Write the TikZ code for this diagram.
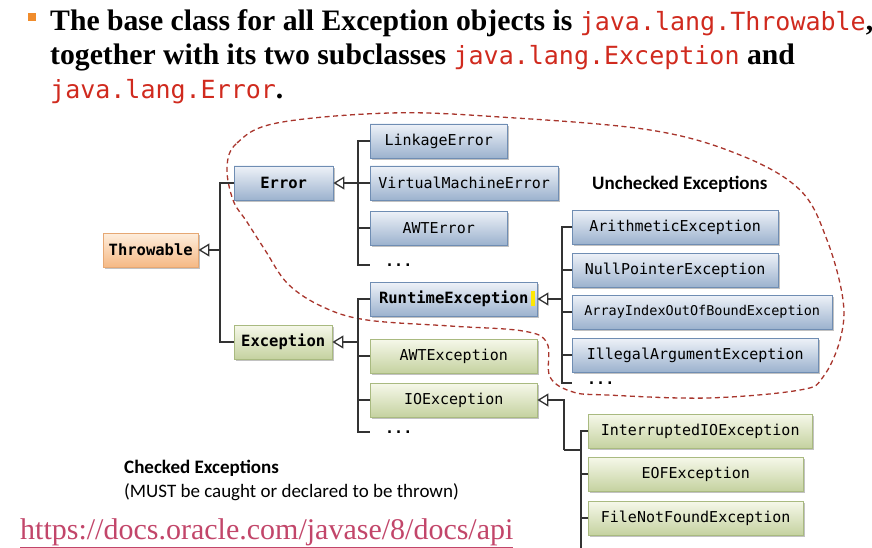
\documentclass[tikz,border=0pt]{standalone}
\usepackage{fontspec}
\setmainfont{Liberation Serif}
\setmonofont{DejaVu Sans Mono}
\newfontfamily\calib{Carlito}
\usetikzlibrary{arrows.meta,shadows}
\definecolor{jred}{HTML}{D02A1E}
\definecolor{bluetop}{HTML}{EEF2F8}
\definecolor{bluebot}{HTML}{9CB2CE}
\definecolor{blueline}{HTML}{6F8DB3}
\definecolor{greentop}{HTML}{F6F8EA}
\definecolor{greenbot}{HTML}{C5D2A0}
\definecolor{greenline}{HTML}{A9BA80}
\definecolor{peachtop}{HTML}{FEEEDD}
\definecolor{peachbot}{HTML}{F5B985}
\definecolor{peachline}{HTML}{E6A874}
\definecolor{curvered}{HTML}{A8352C}
\definecolor{urlred}{HTML}{C2466A}
\definecolor{bulletor}{HTML}{F08C2C}
\newcommand{\jcode}[1]{{\fontsize{25}{25}\selectfont\ttfamily\mdseries\color{jred}#1}}

\begin{document}
\begin{tikzpicture}[
  x=1pt, y=-1pt,
  cls/.style={anchor=west, minimum height=34pt, inner sep=0pt,
              font=\fontsize{15}{15}\selectfont\ttfamily,
              drop shadow={shadow xshift=1.5pt, shadow yshift=-2pt, fill=black!40, opacity=.6}},
  bluecls/.style={cls, draw=blueline, top color=bluetop, bottom color=bluebot},
  greencls/.style={cls, draw=greenline, top color=greentop, bottom color=greenbot},
  peachcls/.style={cls, draw=peachline, top color=peachtop, bottom color=peachbot},
  bold/.style={font=\fontsize{15.5}{15.5}\selectfont\ttfamily\bfseries},
  more/.style={anchor=west, inner xsep=15pt, inner ysep=0pt,
               font=\fontsize{15}{15}\selectfont\ttfamily\bfseries},
  sub/.style={-{Triangle[open, length=11pt, width=13pt]}, line width=1.3pt, black!80},
  tree/.style={line width=1.3pt, black!80},
  title/.style={anchor=base west, inner sep=0pt,
                font=\fontsize{29.7}{34}\selectfont\bfseries},
  note/.style={anchor=west, inner sep=0pt, font=\fontsize{19}{19}\selectfont\calib}
]
  \useasboundingbox (0,0) rectangle (872,548);

  \fill[bulletor] (28,13) rectangle (36,21);
  \node[title] (title1) at (50,31) {The base class for all Exception objects is \jcode{java.lang.Throwable}{,}};
  \node[title] (title2) at (50,65) {together with its two subclasses \jcode{java.lang.Exception} and};
  \node[title] (title3) at (50,99) {\jcode{java.lang.Error}.};

  \draw[curvered, dashed, dash pattern=on 5pt off 3.5pt, line width=1.3pt]
    plot[smooth cycle, tension=0.6] coordinates {
      (227,167) (237,143) (277,123) (390,113) (500,117) (650,130) (740,155)
      (800,190) (827,240) (843,300) (840,340) (823,377) (800,390) (707,398)
      (607,395) (573,392) (550,377) (547,343) (523,331) (450,326) (367,320)
      (323,307) (288,284) (265,250) (247,222) (233,200)};

  \node[peachcls, bold, minimum width=95pt] (throw) at (103,250) {Throwable};
  \node[bluecls, bold, minimum width=99pt] (err) at (234,183) {Error};
  \node[greencls, bold, minimum width=98pt] (exc) at (234,342) {Exception};

  \node[bluecls, minimum width=137pt] (linkage) at (370,141) {LinkageError};
  \node[bluecls, minimum width=188pt] (vme) at (370,183) {VirtualMachineError};
  \node[bluecls, minimum width=137pt] (awterr) at (370,228) {AWTError};
  \node[more] (errmore) at (370,265) {...};

  \node[bluecls, bold, minimum width=167pt] (rte) at (370,299) {RuntimeException};
  \node[greencls, minimum width=167pt] (awtexc) at (370,356) {AWTException};
  \node[greencls, minimum width=167pt] (ioe) at (370,400) {IOException};
  \node[more] (excmore) at (370,432) {...};
  \fill[yellow!90!orange] (531,291) rectangle (535,306);

  \node[bluecls, minimum width=206pt] (arith) at (572,227) {ArithmeticException};
  \node[bluecls, minimum width=206pt] (npe) at (572,270) {NullPointerException};
  \node[bluecls, minimum width=260pt, font=\fontsize{13.5}{13.5}\selectfont\ttfamily] (aioobe) at (572,312) {ArrayIndexOutOfBoundException};
  \node[bluecls, minimum width=246pt] (iae) at (572,355) {IllegalArgumentException};
  \node[more] (rtemore) at (572,383) {...};

  \node[greencls, minimum width=224pt] (intio) at (588,431) {InterruptedIOException};
  \node[greencls, minimum width=215pt] (eof) at (588,474) {EOFException};
  \node[greencls, minimum width=215pt] (fnf) at (588,518) {FileNotFoundException};

  \node[note, font=\fontsize{19}{19}\selectfont\calib\bfseries] (unchecked) at (592,184) {Unchecked Exceptions};
  \node[note, font=\fontsize{19}{19}\selectfont\calib\bfseries] (checked) at (124,468) {Checked Exceptions};
  \node[note] (mustnote) at (124,492) {(MUST be caught or declared to be thrown)};
  \node[anchor=base west, inner sep=0pt, text=urlred, font=\fontsize{30}{30}\selectfont] (url) at (20,539)
    {\underline{https://docs.oracle.com/javase/8/docs/api}};

  \coordinate (tb) at (220,250);
  \coordinate (eb) at (358,183);
  \coordinate (xb) at (358,342);
  \coordinate (rb) at (562,299);
  \coordinate (ik) at (564,450);
  \coordinate (ib) at (581,548);

  \draw[sub] (tb) -- (throw.east);
  \draw[tree] (err.west) -| (tb) |- (exc.west);

  \draw[sub] (eb) -- (err.east);
  \draw[tree] (linkage.west) -| (eb) |- (errmore.west);
  \draw[tree] (vme.west) -- (vme.west -| eb);
  \draw[tree] (awterr.west) -- (awterr.west -| eb);

  \draw[sub] (xb) -- (exc.east);
  \draw[tree] (rte.west) -| (xb) |- (excmore.west);
  \draw[tree] (awtexc.west) -- (awtexc.west -| xb);
  \draw[tree] (ioe.west) -- (ioe.west -| xb);

  \draw[sub] (rb) -- (rte.east);
  \draw[tree] (arith.west) -| (rb) |- (rtemore.west);
  \draw[tree] (npe.west) -- (npe.west -| rb);
  \draw[tree] (aioobe.west) -- (aioobe.west -| rb);
  \draw[tree] (iae.west) -- (iae.west -| rb);

  \draw[sub] (ik) |- (ioe.east);
  \draw[tree] (ik) -- (ik -| ib);
  \draw[tree] (intio.west) -| (ib);
  \draw[tree] (eof.west) -- (eof.west -| ib);
  \draw[tree] (fnf.west) -- (fnf.west -| ib);
\end{tikzpicture}
\end{document}
